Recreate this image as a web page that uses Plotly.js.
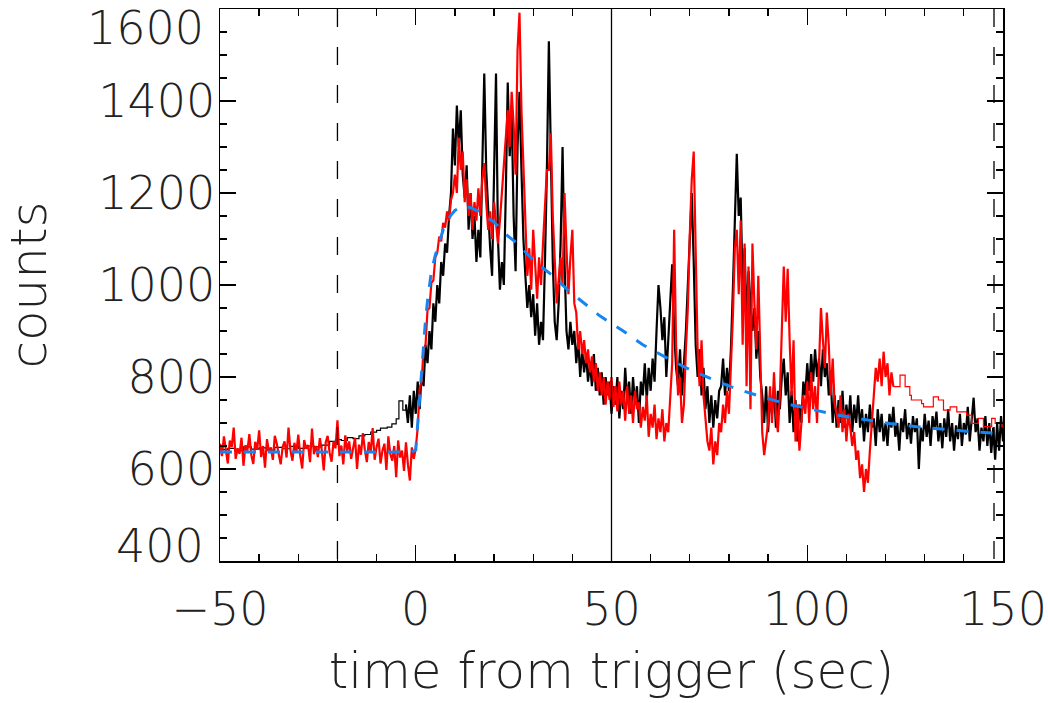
<!DOCTYPE html>
<html>
<head>
<meta charset="utf-8">
<script src="https://cdn.plot.ly/plotly-3.0.1.min.js"></script>
<style>html,body{margin:0;padding:0;background:#fff;}#chart{width:1048px;height:703px;}</style>
</head>
<body>
<div id="chart"></div>
<script>
// ---- data ----
// red light curve, high resolution, t = -50 ... -0.5 (0.5 s bins)
var redPre = [
655, 628, 671, 640, 612, 662, 648, 690, 622, 645, 633, 668, 607, 652, 640, 676, 630, 611, 659, 642,
684, 626, 650, 603, 665, 638, 647, 620, 672, 655, 634, 610, 648, 660, 625, 690, 640, 618, 657, 636,
675, 629, 601, 663, 644, 652, 615, 688, 632, 650,
626, 667, 641, 597, 658, 672, 635, 616, 660, 645, 706, 628, 651, 610, 673, 639, 660, 622, 645, 668,
600, 653, 631, 678, 642, 615, 659, 637, 689, 620, 648, 666, 612, 640, 655, 598, 671, 633, 618, 650,
582, 662, 625, 640, 596, 658, 610, 575, 647, 622
];
// red light curve, high resolution, t = 0 ... 122 (0.5 s bins)
var redPost = [
645, 690, 775, 790, 860, 870, 945, 950, 1005, 1010, 1060, 1070, 1105, 1095, 1135, 1125, 1160, 1140, 1185, 1200,
1240, 1200, 1320, 1250, 1290, 1180, 1230, 1150, 1200, 1120, 1180, 1140, 1210, 1150, 1230, 1265, 1180, 1120, 1160, 1100,
1180, 1130, 1090, 1140, 1200, 1260, 1330, 1380, 1300, 1420, 1350, 1240, 1510, 1592, 1380, 1260, 1130, 1020, 1080, 990,
1120, 1040, 970, 1060, 1000, 1090, 1180, 1250, 1250, 1330, 1150, 1040, 960, 1010, 1060, 1000, 1200, 1080, 980, 1060,
1120, 960, 940, 860, 900, 850, 880, 830, 860, 810, 845, 790, 830, 770, 810, 760, 800, 740, 790, 750,
800, 735, 780, 725, 790, 740, 770, 705, 780, 720, 760, 700, 770, 730, 745, 690, 735, 705, 760, 670,
720, 690, 740, 665, 710, 680, 730, 660, 700, 680, 750, 830, 1120, 870, 760, 800, 700, 740, 860, 950,
1110, 1230, 1290, 1050, 860, 780, 880, 760, 700, 660, 640, 690, 610, 660, 630, 700, 680, 740, 700, 770,
720, 820, 930, 1080, 1120, 980, 1140, 870, 1090, 780, 1040, 730, 1090, 960, 860, 1020, 820, 680, 630, 660,
700, 780, 700, 810, 720, 680, 760, 900, 1040, 920, 1035, 880, 760, 880, 660, 740, 640, 700, 760, 720,
790, 700, 810, 730, 780, 700, 820, 950, 880, 820, 940, 870, 760, 840, 740, 720, 690, 760, 680, 730,
660, 720, 690, 650, 680, 620, 640, 580, 610, 550, 600, 570, 640, 700, 760, 820, 790, 840, 780, 855,
800, 830, 760, 810, 779
];
// red light curve, coarse bins after 122 s (bin start times / counts)
var redStepT = [122.0, 123.7, 125.0, 126.2, 126.6, 129.2, 129.7, 132.2, 133.5, 134.8, 136.5, 138.2, 140.7, 142.0, 143.7, 145.0, 147.1, 148.0, 149.7, 150.0];
var redStepV = [779, 804, 779, 760, 750, 742, 735, 757, 750, 728, 735, 724, 717, 699, 710, 692, 710, 699, 692, 692];

// black light curve, coarse bins before the trigger
var blackStepT = [-50, -48, -46, -44, -42, -40, -38, -36, -34, -32, -30, -28, -26, -24, -22, -20.5, -19, -17.5, -16, -14.5, -13, -11.5, -10, -9, -7.3, -6.1, -5, -4.3, -3.3, -2.5];
var blackStepV = [642, 645, 640, 648, 643, 646, 641, 647, 644, 649, 645, 650, 648, 652, 660, 664, 662, 668, 666, 672, 675, 680, 684, 689, 691, 698, 709, 748, 728, 740];
// black light curve, high resolution, t = -2.5 ... 150 (0.5 s bins)
var blackMain = [
740, 700, 760, 690, 770,
720, 790, 730, 810, 780, 870, 830, 900, 860, 960, 920, 1000, 960, 1050, 1020, 1090, 1070, 1150, 1200, 1340,
1260, 1390, 1300, 1380, 1240, 1190, 1260, 1120, 1200, 1100, 1150, 1050, 1120, 1060, 1300, 1460, 1250, 1150, 1080, 1020,
1280, 1460, 1100, 990, 1050, 1000, 1200, 1440, 1280, 1380, 1150, 1030, 1300, 1420, 1250, 1100, 1020, 950, 1000, 930,
980, 890, 960, 870, 920, 880, 1050, 1250, 1530, 1300, 1050, 920, 880, 960, 1090, 1300, 1050, 900, 860, 920,
870, 900, 830, 880, 800, 860, 810, 850, 790, 830, 780, 850, 770, 820, 760, 810, 740, 800, 760, 790,
720, 780, 740, 800, 710, 770, 730, 820, 750, 790, 720, 800, 740, 780, 700, 790, 760, 830, 750, 820,
770, 840, 790, 900, 1000, 950, 880, 930, 800, 880, 960, 1045, 900, 820, 780, 860, 760, 830, 900, 1000,
1100, 1200, 1050, 870, 800, 860, 760, 820, 730, 780, 700, 760, 690, 750, 710, 770, 780, 840, 760, 820,
770, 860, 990, 1140, 1285, 1150, 1190, 1000, 1080, 920, 1030, 960, 900, 950, 840, 900, 800, 760, 700, 780,
680, 760, 720, 780, 690, 770, 730, 800, 840, 760, 810, 700, 770, 680, 750, 660, 740, 700, 790, 760,
830, 770, 850, 790, 860, 800, 840, 780, 860, 800, 830, 760, 800, 700, 760, 690, 750, 700, 770, 690,
740, 700, 760, 680, 740, 700, 760, 690, 730, 660, 720, 680, 740, 690, 710, 650, 730, 680, 720, 660,
700, 650, 720, 690, 735, 670, 700, 640, 710, 680, 730, 665, 700, 655, 715, 680, 710, 600, 690, 660,
720, 670, 705, 650, 715, 685, 725, 660, 700, 645, 710, 670, 730, 660, 700, 640, 695, 665, 720, 650,
700, 675, 735, 660, 700, 755, 680, 710, 640, 690, 660, 715, 650, 700, 635, 690, 620, 700, 640, 715,
660
];

// fitted model (blue dashed)
var modelT = [-50, -1, 0, 0.5, 1, 1.5, 2, 2.5, 3, 3.5, 4, 5, 6, 7, 8, 9, 10, 11, 12, 13, 14, 16, 18, 20, 23, 26, 29, 32, 35, 39, 43, 47, 53, 58, 64, 70, 76, 82, 88, 95, 102, 108, 115, 121, 128, 134, 142, 150];
var modelV = [637, 637, 641, 700, 760, 820, 875, 925, 965, 1000, 1030, 1065, 1095, 1120, 1138, 1152, 1162, 1168, 1172, 1171, 1168, 1160, 1147, 1137, 1110, 1090, 1063, 1040, 1020, 988, 960, 933, 900, 870, 842, 816, 794, 774, 758, 741, 728, 717, 707, 699, 692, 687, 681, 677];

// vertical reference times
var dashedTimes = [-20, 147.7];
var solidTimes = [50];

// axis ticks / labels
var xTickVals = [-50, 0, 50, 100, 150];
var yTickVals = [400, 600, 800, 1000, 1200, 1400, 1600];
var yTickText = ['', '600', '800', '1000', '1200', '1400', ''];
var yEdgeLabels = [400, 1600];
var xTitle = 'time from trigger (sec)';
var yTitle = 'counts';

// ---- build ----
function grid(t0, n, dt) { var a = []; for (var i = 0; i < n; i++) a.push(t0 + i * dt); return a; }

var FONT = '"DejaVu Sans", Lato, sans-serif';
var TICKSIZE = 46, TITLESIZE = 50, FW = 200, TXT = '#222';
var traces = [
  {x: blackStepT, y: blackStepV, mode: 'lines', line: {color: '#000', width: 1.2, shape: 'hv'}, hoverinfo: 'skip'},
  {x: grid(-2.5, blackMain.length, 0.5), y: blackMain, mode: 'lines', line: {color: '#000', width: 2.2}, hoverinfo: 'skip'},
  {x: grid(-50, redPre.length, 0.5).concat(grid(0, redPost.length, 0.5)), y: redPre.concat(redPost), mode: 'lines', line: {color: '#ff0000', width: 2.2}, hoverinfo: 'skip'},
  {x: redStepT, y: redStepV, mode: 'lines', line: {color: '#ff0000', width: 1.2, shape: 'hv'}, hoverinfo: 'skip'},
  {x: modelT, y: modelV, mode: 'lines', line: {color: '#1585f0', width: 3, dash: '12px,12px'}, hoverinfo: 'skip'}
];

var shapes = [];
dashedTimes.forEach(function (t) {
  shapes.push({type: 'line', xref: 'x', yref: 'paper', x0: t, x1: t, y0: 1, y1: 0, layer: 'above',
    line: {color: '#000', width: 1.3, dash: '18px,20px'}});
});
solidTimes.forEach(function (t) {
  shapes.push({type: 'line', xref: 'x', yref: 'paper', x0: t, x1: t, y0: 0, y1: 1, layer: 'above',
    line: {color: '#000', width: 1.3}});
});

var annotations = yEdgeLabels.map(function (v) {
  return {xref: 'paper', yref: 'y', x: 0, y: v, text: String(v), showarrow: false,
    xanchor: 'right', yanchor: 'middle', xshift: -14, yshift: v === 1600 ? -19 : 15, height: 40,
    font: {family: FONT, size: TICKSIZE, color: TXT, weight: FW}};
});

var axisCommon = {
  showline: true, linecolor: '#000', linewidth: 1.5, mirror: 'ticks',
  ticks: 'inside', ticklen: 16, tickwidth: 1.3, tickcolor: '#000',
  showgrid: false, zeroline: false, automargin: false, ticklabeloverflow: 'allow',
  tickfont: {family: FONT, size: TICKSIZE, color: TXT, weight: FW}
};

var layout = {
  width: 1048, height: 703,
  margin: {l: 220, r: 45, t: 9, b: 142},
  paper_bgcolor: '#fff', plot_bgcolor: '#fff',
  showlegend: false,
  xaxis: Object.assign({}, axisCommon, {
    range: [-50, 150], tickmode: 'array', tickvals: xTickVals,
    minor: {dtick: 10, tick0: -50, ticks: 'inside', ticklen: 7, tickwidth: 1.3, tickcolor: '#000', showgrid: false},
    ticklabelstandoff: 7,
    title: {text: xTitle, font: {family: FONT, size: TITLESIZE, color: TXT, weight: FW}, standoff: 18}
  }),
  yaxis: Object.assign({}, axisCommon, {
    range: [400, 1600], tickmode: 'array', tickvals: yTickVals, ticktext: yTickText,
    minor: {dtick: 50, tick0: 400, ticks: 'inside', ticklen: 7, tickwidth: 1.3, tickcolor: '#000', showgrid: false},
    ticklabelstandoff: -6,
    title: {text: yTitle, font: {family: FONT, size: TITLESIZE, color: TXT, weight: FW}, standoff: 42}
  }),
  shapes: shapes,
  annotations: annotations
};

Plotly.newPlot('chart', traces, layout, {staticPlot: true, displayModeBar: false});
</script>
</body>
</html>
